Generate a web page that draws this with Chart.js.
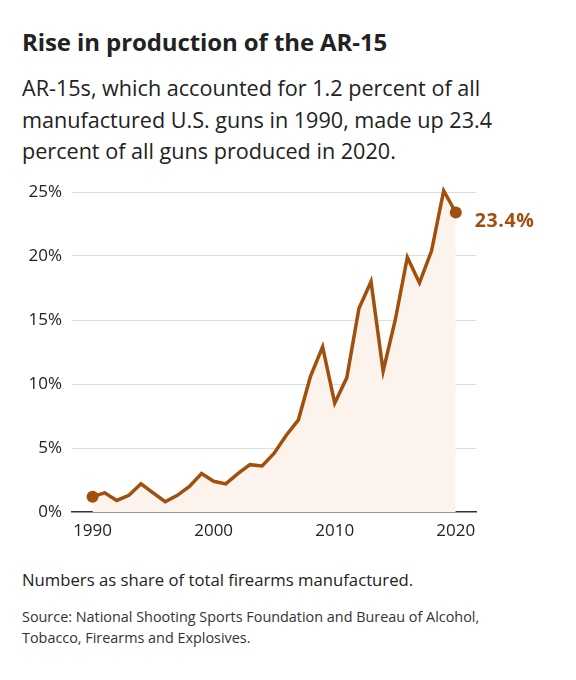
<!DOCTYPE html>
<html>
<head>
<meta charset="utf-8">
<script src="https://cdn.jsdelivr.net/npm/chart.js@4"></script>
<style>
  html, body { margin: 0; padding: 0; background: #fff; }
  body { width: 576px; height: 680px; position: relative; font-family: "Open Sans", "Noto Sans", sans-serif; color: #222; }
  h1 { position: absolute; left: 22px; top: 25px; margin: 0; font-size: 24px; font-weight: 700; color: #222; letter-spacing: -0.1px; }
  .sub { position: absolute; left: 22px; top: 72px; margin: 0; font-size: 21.6px; line-height: 31.5px; font-weight: 400; color: #222; white-space: nowrap; }
  .wrap { position: absolute; left: 0; top: 170px; width: 576px; height: 372px; }
  .note { position: absolute; left: 22px; top: 568px; font-size: 16.7px; font-weight: 400; color: #222; white-space: nowrap; }
  .src { position: absolute; left: 22px; top: 606px; font-size: 14.4px; line-height: 21px; font-weight: 400; color: #333; white-space: nowrap; }
</style>
</head>
<body>
<h1>Rise in production of the AR-15</h1>
<p class="sub">AR-15s, which accounted for 1.2 percent of all<br>manufactured U.S. guns in 1990, made up 23.4<br>percent of all guns produced in 2020.</p>
<div class="wrap"><canvas id="arChart"></canvas></div>
<div class="note">Numbers as share of total firearms manufactured.</div>
<div class="src">Source: National Shooting Sports Foundation and Bureau of Alcohol,<br>Tobacco, Firearms and Explosives.</div>
<script>
// share of all U.S. manufactured guns that were AR-15s, percent
const years = [1990,1991,1992,1993,1994,1995,1996,1997,1998,1999,
               2000,2001,2002,2003,2004,2005,2006,2007,2008,2009,
               2010,2011,2012,2013,2014,2015,2016,2017,2018,2019,2020];
const share = [1.2,1.5,0.9,1.3,2.2,1.5,0.8,1.3,2.0,3.0,
               2.4,2.2,3.0,3.7,3.6,4.6,6.0,7.2,10.6,12.9,
               8.5,10.5,15.9,18.0,11.0,15.0,19.9,17.9,20.4,25.1,23.4];
const xTicks = [1990, 2000, 2010, 2020];
const yTicks = [0, 5, 10, 15, 20, 25];

const brown = '#a14f0c';
const fontFam = '"Open Sans", sans-serif';

// label for the latest value, placed next to the last point
const endLabel = {
    id: 'endLabel',
    afterDatasetsDraw(chart) {
        const meta = chart.getDatasetMeta(0);
        const last = meta.data[meta.data.length - 1];
        const ctx = chart.ctx;
        ctx.save();
        ctx.font = '700 19.5px ' + fontFam;
        ctx.letterSpacing = '0.6px';
        ctx.fillStyle = brown;
        ctx.textAlign = 'left';
        ctx.textBaseline = 'middle';
        ctx.fillText(share[share.length - 1] + '%', last.x + 19, last.y + 9);
        ctx.restore();
    }
};

document.addEventListener('DOMContentLoaded', function() {
    const ctx = document.getElementById('arChart');
    new Chart(ctx, {
        type: 'line',
        data: {
            datasets: [{
                data: years.map((y, i) => ({ x: y, y: share[i] })),
                borderColor: brown,
                borderWidth: 3.5,
                backgroundColor: '#fdf3ed',
                fill: 'origin',
                tension: 0,
                borderJoinStyle: 'miter',
                pointRadius: share.map((v, i) => (i === 0 || i === share.length - 1) ? 6 : 0),
                pointBackgroundColor: brown,
                pointBorderWidth: 0,
                clip: false
            }]
        },
        plugins: [endLabel],
        options: {
            responsive: true,
            maintainAspectRatio: false,
            animation: false,
            layout: { padding: { left: 0, right: 100, top: 22, bottom: 0 } },
            plugins: { legend: { display: false }, tooltip: { enabled: false } },
            scales: {
                x: {
                    type: 'linear',
                    min: 1988.3,
                    max: 2021.67,
                    afterBuildTicks: s => { s.ticks = xTicks.map(v => ({ value: v })); },
                    afterFit: s => { s.height = 30; },
                    grid: { display: false },
                    border: { display: true, color: '#333', width: 1.5 },
                    ticks: {
                        color: '#222',
                        font: { family: fontFam, size: 17 },
                        padding: 1,
                        maxRotation: 0,
                        callback: v => String(v)
                    }
                },
                y: {
                    min: 0,
                    max: 25,
                    afterBuildTicks: s => { s.ticks = yTicks.map(v => ({ value: v })); },
                    afterFit: s => { s.width = 72; },
                    grid: {
                        color: ctx => ctx.tick.value === 0 ? 'rgba(0,0,0,0)' : '#dddddd',
                        lineWidth: 1,
                        drawTicks: false
                    },
                    border: { display: false },
                    ticks: {
                        color: '#222',
                        font: { family: fontFam, size: 17 },
                        padding: 10,
                        callback: v => v + '%'
                    }
                }
            }
        }
    });
});
</script>
</body>
</html>
